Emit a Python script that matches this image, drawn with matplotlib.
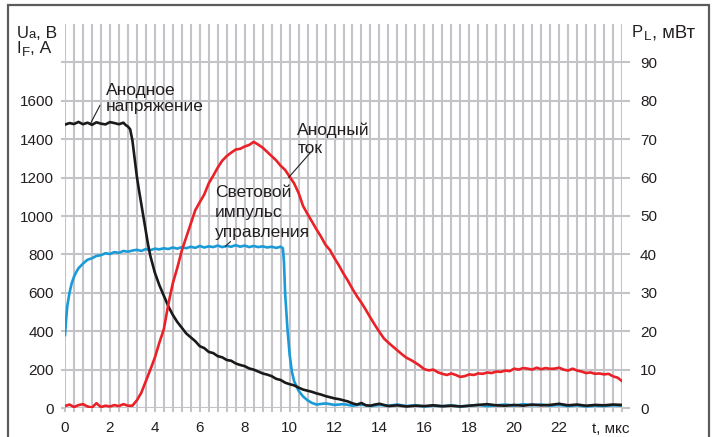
import numpy as np
import matplotlib
matplotlib.use("Agg")
import matplotlib.pyplot as plt
from matplotlib.patches import Rectangle

plt.rcParams['font.family'] = ['Liberation Sans', 'DejaVu Sans']

# ---------------- data ----------------
# Anode voltage, V (left axis)
t_voltage = [0.0, 0.2, 0.4, 0.6, 0.8, 1.0, 1.2, 1.4, 1.6, 1.8, 2.0, 2.2, 2.4, 2.6, 2.7, 2.8, 2.9,
             3.0, 3.1, 3.2, 3.3, 3.4, 3.5, 3.6, 3.7, 3.8, 4.0, 4.2, 4.4, 4.6, 4.8, 5.0, 5.2, 5.4,
             5.6, 5.8, 6.0, 6.2, 6.4, 6.6, 6.8, 7.0, 7.2, 7.4, 7.6, 7.8, 8.0, 8.2, 8.4, 8.6, 8.8,
             9.0, 9.2, 9.4, 9.6, 9.8, 10.0, 10.2, 10.4, 10.6, 10.8, 11.0, 11.2, 11.4, 11.6, 11.8,
             12.0, 12.2, 12.4, 12.6, 12.8, 13.0, 13.2, 13.4, 13.6, 13.8, 14.0, 14.4, 14.8, 15.2,
             15.6, 16.0, 16.4, 16.8, 17.2, 17.6, 18.0, 18.4, 18.8, 19.2, 19.6, 20.0, 20.4, 20.8,
             21.2, 21.6, 22.0, 22.4, 22.8, 23.2, 23.6, 24.0, 24.4, 24.8]
anode_voltage = [1476, 1484, 1479, 1490, 1478, 1486, 1475, 1488, 1481, 1477, 1489, 1484, 1478, 1486,
                 1474, 1466, 1452, 1395, 1300, 1205, 1130, 1060, 990, 920, 850, 792, 705, 640, 585,
                 530, 485, 448, 418, 388, 368, 348, 322, 312, 292, 286, 270, 264, 250, 246, 232, 224,
                 218, 206, 200, 190, 180, 174, 166, 152, 146, 132, 124, 118, 106, 96, 90, 84, 76, 70,
                 62, 56, 50, 46, 40, 34, 24, 18, 26, 14, 12, 18, 22, 10, 14, 8, 12, 10, 14, 9, 12, 8,
                 12, 16, 20, 14, 12, 16, 12, 18, 14, 16, 22, 14, 18, 12, 16, 14, 18, 16]

# Anode current, A (left axis), sampled every 0.2 us from 0 to 24.8 us
anode_current = [10, 18, 5, 15, 20, 8, 2, 25, 5, 12, 8, 15, 10, 20, 12, 12,
                 40, 80, 140, 200, 262, 340, 410, 540, 650, 730, 820, 890, 960, 1030,
                 1072, 1112, 1170, 1210, 1252, 1288, 1312, 1330, 1346, 1350, 1362, 1370,
                 1386, 1372, 1356, 1334, 1312, 1290, 1262, 1240, 1205, 1170, 1120, 1052,
                 1010, 970, 930, 892, 850, 822, 780, 742, 700, 662, 620, 582, 548, 510,
                 470, 432, 396, 362, 340, 320, 300, 280, 262, 250, 236, 220, 202, 196,
                 200, 186, 178, 172, 180, 172, 162, 166, 175, 172, 180, 178, 185, 182,
                 190, 188, 195, 192, 205, 200, 208, 205, 200, 210, 202, 208, 204, 205,
                 210, 200, 195, 205, 195, 190, 182, 185, 178, 180, 175, 178, 165, 158, 140]
t_current = np.round(np.arange(0, 24.81, 0.2), 1)[:len(anode_current)]

# Control light pulse power, mW (right axis)
t_light = [0.0, 0.05, 0.1, 0.2, 0.3, 0.4, 0.5, 0.6, 0.8, 1.0, 1.2, 1.4, 1.6, 1.8, 2.0, 2.2, 2.4,
           2.6, 2.8, 3.0, 3.2, 3.4, 3.6, 3.8, 4.0, 4.2, 4.4, 4.6, 4.8, 5.0, 5.2, 5.4, 5.6, 5.8,
           6.0, 6.2, 6.4, 6.6, 6.8, 7.0, 7.2, 7.4, 7.6, 7.8, 8.0, 8.2, 8.4, 8.6, 8.8, 9.0, 9.2,
           9.4, 9.6, 9.7, 9.75, 9.8, 9.9, 10.0, 10.1, 10.2, 10.4, 10.6, 10.8, 11.0, 11.2, 11.6,
           12.0, 12.4, 12.8, 13.2, 13.6, 14.0, 14.4, 14.8, 15.2, 15.6, 16.0, 16.4, 16.8, 17.2,
           17.6, 18.0, 18.4, 18.8, 19.2, 19.6, 20.0, 20.4, 20.8, 21.2, 21.6, 22.0, 22.4, 22.8,
           23.2, 23.6, 24.0, 24.4, 24.8]
light_power = [19.0, 23.0, 26.5, 30.0, 32.5, 34.2, 35.4, 36.4, 37.6, 38.6, 39.0, 39.6, 39.8, 40.3,
               40.1, 40.6, 40.4, 40.9, 40.7, 41.0, 41.2, 40.9, 41.4, 41.1, 41.5, 41.3, 41.6, 41.4,
               41.8, 41.5, 41.9, 41.6, 42.0, 41.7, 42.2, 41.8, 42.1, 41.9, 42.3, 41.9, 42.2, 42.0,
               42.4, 42.0, 42.3, 41.9, 42.2, 41.9, 42.1, 41.8, 42.0, 41.7, 42.0, 41.6, 38.0, 30.0,
               21.0, 14.0, 9.5, 7.0, 4.5, 3.0, 2.0, 1.3, 0.9, 1.2, 0.8, 1.0, 0.6, 0.9, 0.5, 0.8,
               0.6, 0.9, 0.5, 0.7, 0.4, 0.6, 0.5, 0.7, 0.4, 0.6, 0.8, 0.5, 0.7, 0.9, 0.6, 1.0, 0.7,
               0.9, 0.6, 0.8, 0.5, 0.7, 0.4, 0.6, 0.5, 0.7, 0.6]

x_ticks = [0, 2, 4, 6, 8, 10, 12, 14, 16, 18, 20, 22]
left_ticks = [0, 200, 400, 600, 800, 1000, 1200, 1400, 1600, 1800]
left_labels = ['0', '200', '400', '600', '800', '1000', '1200', '1400', '1600', '']
right_ticks = [0, 10, 20, 30, 40, 50, 60, 70, 80, 90]

# ---------------- figure ----------------
W, H = 715, 437
fig = plt.figure(figsize=(W / 100, H / 100), dpi=100)
fig.patch.set_facecolor('white')

x0, x1, y0, y1 = 65, 622, 408, 24
ax = fig.add_axes([x0 / W, 1 - y0 / H, (x1 - x0) / W, (y0 - y1) / H])
ax2 = ax.twinx()
ax.set_zorder(ax2.get_zorder() + 1)
ax.patch.set_visible(False)

ax.set_xlim(0, 24.8)
ax.set_ylim(0, 2000)
ax2.set_ylim(0, 100)

grid_c = '#c4c4c8'
txt_c = '#231f20'
fs = 11
fa = 12.5

for a in (ax, ax2):
    for s in a.spines.values():
        s.set_visible(False)

# x ticks (every 0.4 us grid line, labels every 2 us)
xt = np.round(np.arange(0, 24.81, 0.4), 1)
ax.set_xticks(xt)
ax.set_xticklabels([str(int(round(v))) if round(v, 1) in x_ticks else '' for v in xt])
ax.tick_params(axis='x', length=3, width=1.5, color=grid_c, pad=6.5,
               labelsize=fs, labelcolor=txt_c)

# left y ticks
ax.set_yticks(left_ticks)
ax.set_yticklabels(left_labels)
ax.tick_params(axis='y', length=3, width=1.5, color=grid_c, pad=5,
               labelsize=fs, labelcolor=txt_c)

# right y ticks
ax2.set_yticks(right_ticks)
ax2.set_yticklabels([str(v) for v in right_ticks])
ax2.tick_params(axis='y', length=6, width=1.5, color=grid_c, pad=7,
                labelsize=fs, labelcolor=txt_c)

# grid on the lower axes so every curve sits on top of it
ax2.xaxis.set_visible(True)
ax2.tick_params(axis='x', length=0, labelbottom=False, labeltop=False)
ax2.grid(True, axis='both', color=grid_c, lw=1.5)
ax2.set_axisbelow(True)

# curves
ax2.plot(t_light, light_power, color='#1b9ad8', lw=1.9, solid_joinstyle='round')
ax.plot(t_voltage, anode_voltage, color='#1a1a1a', lw=1.9, solid_joinstyle='round')
ax.plot(t_current, anode_current, color='#ea2127', lw=1.9, solid_joinstyle='round')

# annotations
arrow = dict(arrowstyle='-', color=txt_c, lw=0.8, shrinkA=0, shrinkB=0)
ax.annotate('', xy=(1.12, 1478), xytext=(1.56, 1577), arrowprops=arrow)
ax.text(1.83, 1612, 'Анодное\nнапряжение', fontsize=fa, color=txt_c,
        ha='left', va='center', linespacing=1.12)
ax.annotate('', xy=(9.96, 1201), xytext=(10.94, 1332), arrowprops=arrow)
ax.text(10.35, 1400, 'Анодный\nток', fontsize=fa, color=txt_c,
        ha='left', va='center', linespacing=1.18)
ax.annotate('', xy=(7.14, 841), xytext=(7.37, 867), arrowprops=arrow)
ax.text(6.68, 1016, 'Световой\nимпульс\nуправления', fontsize=fa, color=txt_c,
        ha='left', va='center', linespacing=1.42)


# axis titles built from main letter + subscript + rest
def title(parts):
    for x, y, s, size in parts:
        fig.text(x / W, 1 - y / H, s, fontsize=size, color=txt_c, ha='left', va='baseline')


title([(17, 37.5, 'U', 12), (28, 38.5, 'a', 9.5), (36, 37.5, ', В', 12.5)])
title([(17, 53, 'I', 12), (22, 56, 'F', 9.5), (30, 53, ', А', 12.5)])
title([(632, 37, 'P', 12), (644, 40, 'L', 9.5), (652, 37, ', мВт', 13.3)])
ax.text(24.3, -0.055, 't, мкс', transform=ax.get_xaxis_transform(), fontsize=fs,
        color=txt_c, ha='center', va='center')

# outer frame
fig.add_artist(Rectangle((8 / W, -0.05), (709 - 8) / W, 1.05 - 5.5 / H,
                         transform=fig.transFigure, fill=False, ec='#5c5c5c', lw=1.6))

fig.savefig('out.png', dpi=100)
